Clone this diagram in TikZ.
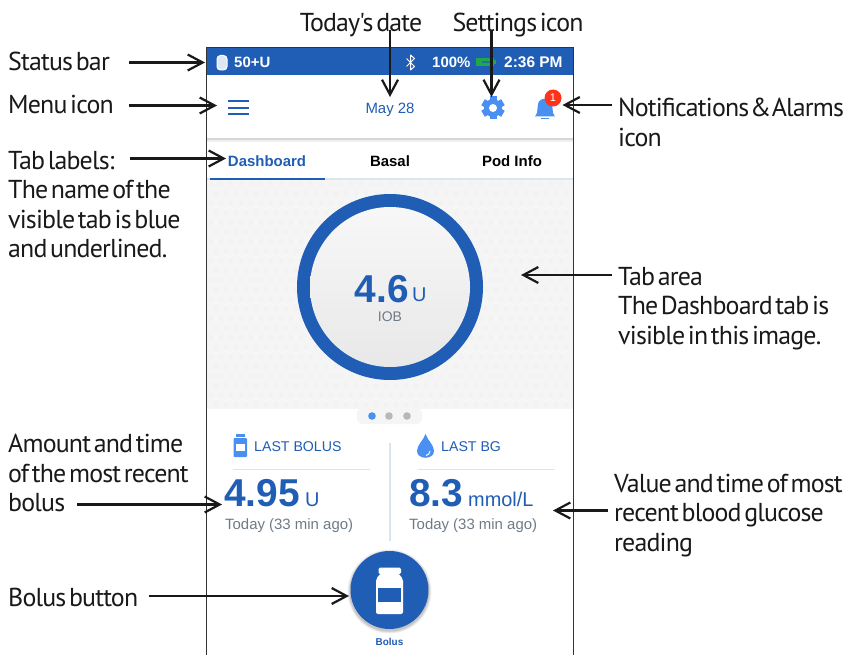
\documentclass[tikz,border=0pt]{standalone}
\usepackage{fontspec}
\setmainfont{Liberation Sans}
\newfontfamily\lblfont[LetterSpace=-3.2,WordSpace=0.45]{PT Sans}
\usetikzlibrary{arrows.meta}
\definecolor{appblue}{HTML}{205DB5}
\definecolor{iconblue}{HTML}{4A90F0}
\definecolor{subgrey}{HTML}{6E7B87}
\definecolor{rulegrey}{HTML}{DCE4EC}
\definecolor{tabbg}{HTML}{F5F5F5}
\definecolor{batgreen}{HTML}{1FA84A}
\tikzset{x=1bp,y=-1bp,
 lbl/.style={font=\lblfont\fontsize{26}{29.5}\selectfont,text=black!90,inner sep=0pt,anchor=west,align=left},
 callout/.style={draw=black!90,line width=2.2bp,-{Straight Barb[length=15bp,width=16bp,line width=2.2bp]}},
 app/.style={inner sep=0pt,text=appblue},
}
\begin{document}
\begin{tikzpicture}
\useasboundingbox (0,0) rectangle (854,655);
\fill[white] (0,0) rectangle (854,655);
% screen
\fill[appblue] (207,48) rectangle (573,75);
\fill[tabbg] (207,180) rectangle (573,408.5);
\foreach \i in {0,...,35}{\foreach \j in {0,...,23}{
  \draw[black!6,line width=.6bp] ({211+\i*10+5*mod(\j,2)},{184+\j*9.6}) circle (1.8);}}
\fill[black!16] (207,138) rectangle (573,140);
\fill[black!6] (207,140) rectangle (573,142);
\fill[rulegrey] (207,178) rectangle (573,180);
\fill[appblue] (210,178) rectangle (325,180);
% tab dots pad
\fill[tabbg,rounded corners=5bp] (357,408) rectangle (422,424);
\fill[iconblue] (372,416) circle (3.8);
\fill[black!28] (389,416) circle (3.8);
\fill[black!28] (407,416) circle (3.8);
% ring
\node[circle,minimum size=186bp,inner sep=0pt,fill=appblue] (ring) at (390,287) {};
\node[circle,minimum size=160bp,inner sep=0pt,top color=white!97!black,bottom color=black!9] (dial) at (390,287) {};
\node[app,anchor=base east,font=\bfseries\fontsize{39}{39}\selectfont] (iob) at (409,302) {4.6};
\node[app,anchor=base west,font=\fontsize{20}{20}\selectfont] (iobu) at (412,301) {U};
\node[app,text=subgrey,font=\fontsize{14}{14}\selectfont] (ioblbl) at (390,317) {IOB};
% status bar
\draw[white,line width=1bp,fill=white!85!appblue,rounded corners=3.5bp] (217,55.5) rectangle (227,70);
\node[app,text=white,anchor=west,font=\bfseries\fontsize{15}{15}\selectfont] (units) at (234,62.5) {50+U};
\draw[white,line width=1bp,line join=round] (406.5,58.5) -- (414.5,66.5) -- (410.5,70) -- (410.5,55) -- (414.5,58.5) -- (406.5,66.5);
\node[app,text=white,anchor=west,font=\bfseries\fontsize{15}{15}\selectfont] (pct) at (432,62.5) {100\%};
\fill[batgreen] (476,58) rectangle (494,66);
\fill[batgreen] (494,60) rectangle (496,64);
\fill[appblue!70!batgreen] (482,61) rectangle (490,63);
\node[app,text=white,anchor=west,font=\bfseries\fontsize{15.5}{15.5}\selectfont] (clock) at (504,62.5) {2:36 PM};
% menu row
\foreach \y in {101.5,108,114.5}{\fill[appblue] (228,\y-1) rectangle (249,\y+1);}
\node[app,font=\fontsize{15}{15}\selectfont] (date) at (390,109.5) {May 28};
\coordinate (gear) at (493,108);
\fill[iconblue] (gear) circle (9);
\foreach \a in {0,60,...,300}{\fill[iconblue,rotate around={\a:(gear)}] (489.5,96.5) rectangle (496.5,101);}
\fill[white] (gear) circle (4);
\fill[iconblue] (535,116.5) -- (537,113) -- (538,104) .. controls (539,97) and (551,97) .. (552,104) -- (553,113) -- (555,116.5) -- cycle;
\fill[iconblue] (541,118) rectangle (549,119.5);
\node[circle,fill=red!78!orange!90!white,text=white,inner sep=0pt,minimum size=17bp,font=\fontsize{11}{11}\selectfont] (badge) at (553,98) {1};
% tabs
\node[app,font=\bfseries\fontsize{15}{15}\selectfont] (tdash) at (267,161) {Dashboard};
\node[app,text=black,font=\bfseries\fontsize{15}{15}\selectfont] (tbasal) at (390,161) {Basal};
\node[app,text=black,font=\bfseries\fontsize{15}{15}\selectfont] (tpod) at (512,161) {Pod Info};
% last bolus panel
\fill[iconblue] (235.5,434) rectangle (244.5,437);
\fill[iconblue,rounded corners=1bp] (233.5,438) rectangle (247,457);
\fill[white] (235.5,444) rectangle (245,451);
\node[app,anchor=west,font=\fontsize{14.2}{14.2}\selectfont] (lb) at (254,447) {LAST BOLUS};
\fill[rulegrey] (233,469) rectangle (370,470);
\node[app,anchor=base west,font=\bfseries\fontsize{39}{39}\selectfont] (bolusval) at (224,506) {4.95};
\node[app,anchor=base west,font=\fontsize{20}{20}\selectfont] (bolusu) at (305,506) {U};
\node[app,text=subgrey,anchor=base west,font=\fontsize{15}{15}\selectfont] (boltime) at (225,529) {Today (33 min ago)};
\fill[rulegrey] (389,443) rectangle (390.5,541);
\fill[iconblue] (425.5,434) .. controls (428,441) and (434,445) .. (434,451) .. controls (434,460) and (417,460) .. (417,451) .. controls (417,445) and (423,441) .. (425.5,434) -- cycle;
\draw[white,line width=1bp] (430,451) .. controls (430,454) and (428,455) .. (426,455.5);
\node[app,anchor=west,font=\fontsize{14.2}{14.2}\selectfont] (lbg) at (441,447) {LAST BG};
\fill[rulegrey] (418,469) rectangle (555,470);
\node[app,anchor=base west,font=\bfseries\fontsize{39}{39}\selectfont] (bgval) at (409,506) {8.3};
\node[app,anchor=base west,font=\fontsize{20}{20}\selectfont] (bgu) at (468,506) {mmol/L};
\node[app,text=subgrey,anchor=base west,font=\fontsize{15}{15}\selectfont] (bgtime) at (409,529) {Today (33 min ago)};
% bolus button
\foreach \r/\o in {42/.06,41/.08,40/.1}{\fill[black,opacity=\o] (389.5,591.5) circle (\r);}
\node[circle,minimum size=78bp,inner sep=0pt,fill=appblue] (bolusbtn) at (389.5,590) {};
\fill[white,rounded corners=1.5bp] (378.5,567.5) rectangle (401,574);
\fill[white,rounded corners=2bp] (381,573) -- (398,573) -- (403,579) -- (403,614) -- (376,614) -- (376,579) -- cycle;
\fill[appblue] (378,588) rectangle (401,602);
\node[app,font=\bfseries\fontsize{10}{10}\selectfont] (boluslbl) at (389.5,642) {Bolus};
% screen border
\draw[black!80,line width=1.3bp] (206.5,655) -- (206.5,47.5) -- (573.5,47.5) -- (573.5,655);
% labels
\node[lbl] (lstatus) at (8,61) {Status bar};
\node[lbl] (lmenu) at (8,104) {Menu icon};
\node[lbl,anchor=north west] (ltabs) at (8,151) {Tab labels:\\The name of the\\visible tab is blue\\and underlined.};
\node[lbl,anchor=north west] (lamount) at (8,434) {Amount and time\\of the most recent\\bolus};
\node[lbl] (lbutton) at (8,597) {Bolus button};
\node[lbl,anchor=north] (ldate) at (361,13) {Today's date};
\node[lbl,anchor=north] (lset) at (518,13) {Settings icon};
\node[lbl,anchor=north west] (lnotif) at (618,98) {Notifications\kern-2bp{} \&\kern-2bp{} Alarms\\icon};
\node[lbl,anchor=north west] (larea) at (618,267) {Tab area\\The Dashboard tab is\\visible in this image.};
\node[lbl,anchor=north west] (lvalue) at (614,474) {Value and time of most\\recent blood glucose\\reading};
% callouts
\coordinate (cs) at (129,62.5); \coordinate (ce) at (205,62.5);
\draw[callout] (cs) -- (ce);
\coordinate (m1) at (129,105.5); \coordinate (m2) at (217,105.5);
\draw[callout] (m1) -- (m2);
\coordinate (t1) at (130,158.5); \coordinate (t2) at (226,158.5);
\draw[callout] (t1) -- (t2);
\coordinate (d1) at (390,30); \coordinate (d2) at (390,97);
\draw[callout] (d1) -- (d2);
\coordinate (g1) at (491.5,30); \coordinate (g2) at (491.5,97);
\draw[callout] (g1) -- (g2);
\coordinate (n1) at (612,105); \coordinate (n2) at (562.5,105);
\draw[callout] (n1) -- (n2);
\coordinate (a1) at (612,275); \coordinate (a2) at (521,275);
\draw[callout] (a1) -- (a2);
\coordinate (b1) at (77,504.5); \coordinate (b2) at (222,504.5);
\draw[callout] (b1) -- (b2);
\coordinate (v1) at (608,510.5); \coordinate (v2) at (553,510.5);
\draw[callout] (v1) -- (v2);
\coordinate (u1) at (149,596); \coordinate (u2) at (349,596);
\draw[callout] (u1) -- (u2);
\end{tikzpicture}
\end{document}
